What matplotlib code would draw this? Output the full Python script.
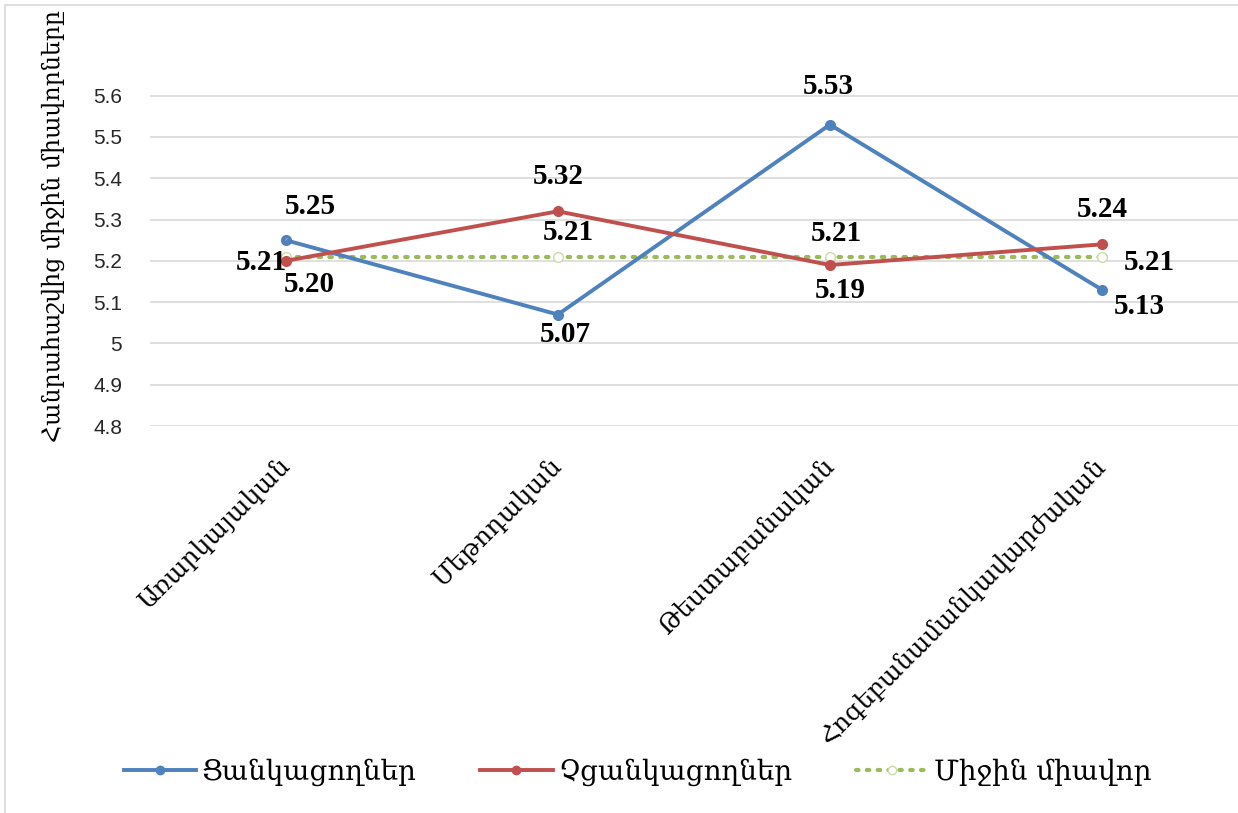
import numpy as np
import matplotlib
matplotlib.use('Agg')
import matplotlib.pyplot as plt
from matplotlib.lines import Line2D

# data
categories = ['Առարկայական', 'Մեթոդական', 'Թեստաբանական', 'Հոգեբանամանկավարժական']
wanting = [5.25, 5.07, 5.53, 5.13]        # Ցանկացողներ
not_wanting = [5.20, 5.32, 5.19, 5.24]    # Չցանկացողներ
average = [5.21, 5.21, 5.21, 5.21]        # Միջին միավոր
series_names = ['Ցանկացողներ', 'Չցանկացողներ', 'Միջին միավոր']
y_label = 'Հանրահաշվից միջին միավորները'
y_ticks = [4.8, 4.9, 5.0, 5.1, 5.2, 5.3, 5.4, 5.5, 5.6]
y_tick_labels = ['4.8', '4.9', '5', '5.1', '5.2', '5.3', '5.4', '5.5', '5.6']

blue = '#4F81BD'
red = '#C0504D'
green = '#9BBB59'
arm_font = ['DejaVu Serif']
num_font = ['Liberation Serif', 'DejaVu Serif']
dots = (0, (0.6, 2.0))

fig = plt.figure(figsize=(12.38, 8.13), dpi=100)
ax = fig.add_axes([0.121, 0.476, 0.879, 0.518])

x = np.arange(len(categories))
ax.plot(x, wanting, color=blue, lw=2.8, marker='o', markersize=7, zorder=3)
ax.plot(x, not_wanting, color=red, lw=2.8, marker='o', markersize=7, zorder=3)
ax.plot(x, average, color=green, lw=3, linestyle=dots, dash_capstyle='round',
        marker='o', markersize=7, mfc='white', mec='#C9DBA8', zorder=2)

ax.set_xlim(-0.5, 3.5)
ax.set_ylim(4.8, 5.82)
ax.set_yticks(y_ticks)
ax.set_yticklabels(y_tick_labels, fontsize=15, family=['Liberation Sans', 'DejaVu Sans'],
                   color='#262626')
ax.set_xticks(x)
ax.set_xticklabels(categories, rotation=45, ha='right', va='center', rotation_mode='anchor',
                   fontsize=18, family=arm_font)
ax.tick_params(axis='x', length=0, pad=26)
ax.tick_params(axis='y', length=0, pad=20)
ax.grid(axis='y', color='#D9D9D9', lw=1.2)
ax.set_axisbelow(True)
for s in ax.spines.values():
    s.set_visible(False)
ax.set_ylabel(y_label, fontsize=17, family=arm_font)
ax.yaxis.set_label_coords(-0.078, 0.475)

# data labels, offsets in pixels
lab_kw = dict(textcoords='offset pixels', ha='center', va='center', fontsize=21,
              fontweight='bold', family=num_font)
blue_off = [(24, 34), (7, -20), (-2, 38), (37, -17)]
red_off = [(23, -24), (0, 35), (10, -26), (0, 35)]
green_off = [(-25, -6), (10, 24), (6, 23), (47, -6)]
for i in range(len(categories)):
    if i == 0:
        ax.annotate(f'{wanting[i]:.2f}', (x[i], wanting[i]), xytext=blue_off[i],
                    arrowprops=dict(arrowstyle='-', color='#A6A6A6', lw=0.8,
                                    shrinkA=14, shrinkB=2), **lab_kw)
    else:
        ax.annotate(f'{wanting[i]:.2f}', (x[i], wanting[i]), xytext=blue_off[i], **lab_kw)
    ax.annotate(f'{not_wanting[i]:.2f}', (x[i], not_wanting[i]), xytext=red_off[i], **lab_kw)
    ax.annotate(f'{average[i]:.2f}', (x[i], average[i]), xytext=green_off[i], **lab_kw)

handles = [
    Line2D([], [], color=blue, lw=2.8, marker='o', markersize=6),
    Line2D([], [], color=red, lw=2.8, marker='o', markersize=6),
    Line2D([], [], color=green, lw=3, linestyle=dots, dash_capstyle='round',
           marker='o', markersize=6, mfc='white', mec='#C9DBA8'),
]
fig.legend(handles, series_names, loc='center', bbox_to_anchor=(0.515, 0.05), ncol=3,
           frameon=False, prop={'family': arm_font, 'size': 20}, handlelength=2.6,
           columnspacing=2.3, handletextpad=0.2)

# chart area border
fig.add_artist(plt.Rectangle((0.004, -0.01), 1.2, 1.004, transform=fig.transFigure,
                             fill=False, edgecolor='#D9D9D9', lw=1.2))

fig.savefig('out.png', dpi=100)
